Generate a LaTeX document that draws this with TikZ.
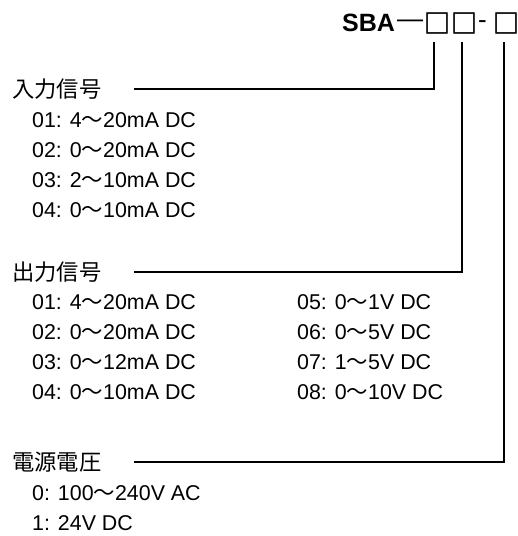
\documentclass[tikz,border=0pt]{standalone}
\usepackage{fontspec}
\setmainfont{Liberation Sans}
\newfontfamily\cjk{Noto Sans CJK JP}
\newfontfamily\cjkb[FakeBold=1.8]{Noto Sans CJK JP}
\newcommand{\wv}{{\cjk 〜}}
\newcommand{\sq}{\makebox[22pt][c]{□}}
\begin{document}
\begin{tikzpicture}[x=1pt,y=-1pt,
  hdr/.style={anchor=west, inner sep=0pt, font=\cjk\fontsize{22.3}{22.3}\selectfont},
  item/.style={anchor=west, inner sep=0pt, font=\fontsize{21.4}{21.4}\selectfont},
  ttl/.style={inner sep=0pt, font=\bfseries\fontsize{25}{25}\selectfont},
  dsh/.style={inner sep=0pt, font=\fontsize{26}{26}\selectfont},
  bx/.style={inner sep=0pt, font=\cjkb\fontsize{26}{26}\selectfont},
  conn/.style={line width=2pt}]
\useasboundingbox (0,0) rectangle (518,536);
% title
\node[ttl, anchor=west] (sba) at (342,23) {SBA};
\node[dsh] (d1) at (410,24) {—};
\node[bx] (b1) at (437,23) {\sq};
\node[bx] (b2) at (464,23) {\sq};
\node[dsh] (d2) at (482.5,25) {-};
\node[bx] (b3) at (506,23) {\sq};
% headers
\node[hdr] (inh) at (12,89) {入力信号};
\node[hdr] (outh) at (12,272) {出力信号};
\node[hdr] (pwh) at (12,462) {電源電圧};
% connectors
\draw[conn] ([xshift=-3pt,yshift=-19pt]b1.center) |- ([xshift=32pt]inh.east);
\draw[conn] ([xshift=-2pt,yshift=-19pt]b2.center) |- ([xshift=32pt]outh.east);
\draw[conn] ([xshift=-2pt,yshift=-19pt]b3.center) |- ([xshift=32pt]pwh.east);
% input items
\node[item] (i1) at (32,120) {01: 4\wv20mA DC};
\node[item] (i2) at (32,150) {02: 0\wv20mA DC};
\node[item] (i3) at (32,180) {03: 2\wv10mA DC};
\node[item] (i4) at (32,210) {04: 0\wv10mA DC};
% output items
\node[item] (o1) at (32,302) {01: 4\wv20mA DC};
\node[item] (o2) at (32,332) {02: 0\wv20mA DC};
\node[item] (o3) at (32,362) {03: 0\wv12mA DC};
\node[item] (o4) at (32,392) {04: 0\wv10mA DC};
\node[item] (o5) at (297,302) {05: 0\wv1V DC};
\node[item] (o6) at (297,332) {06: 0\wv5V DC};
\node[item] (o7) at (297,362) {07: 1\wv5V DC};
\node[item] (o8) at (297,392) {08: 0\wv10V DC};
% power items
\node[item] (p0) at (32,493) {0: 100\wv240V AC};
\node[item] (p1) at (32,523) {1: 24V DC};
\end{tikzpicture}
\end{document}
